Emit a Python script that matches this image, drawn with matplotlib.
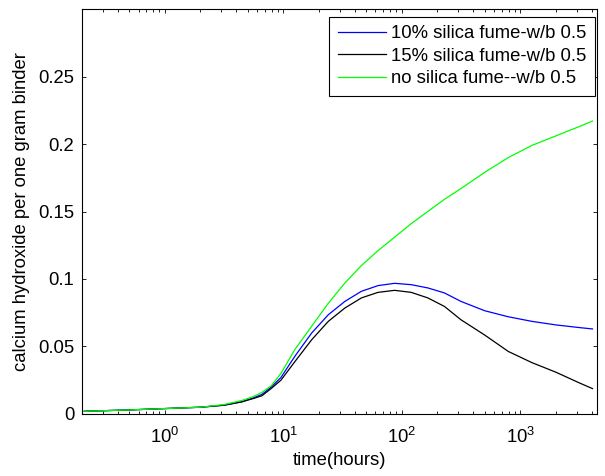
import numpy as np
import matplotlib.pyplot as plt

plt.rcParams['font.family'] = ['Liberation Sans', 'DejaVu Sans']

# log10(time in hours) at which the curves were read
log_t = [-0.68, -0.3, 0.0, 0.3, 0.5, 0.65, 0.75, 0.82, 0.9, 0.98, 1.1, 1.24, 1.38, 1.52,
         1.66, 1.8, 1.94, 2.08, 2.22, 2.36, 2.5, 2.7, 2.9, 3.1, 3.3, 3.5, 3.61]

sf10 = [0.002, 0.003, 0.004, 0.005, 0.0065, 0.009, 0.012, 0.0145, 0.020, 0.027, 0.043, 0.060, 0.0735, 0.0834,
        0.0909, 0.0951, 0.0968, 0.0958, 0.0934, 0.0897, 0.0834, 0.0765, 0.072, 0.0686, 0.066, 0.064, 0.063]
sf15 = [0.002, 0.003, 0.004, 0.005, 0.0065, 0.009, 0.0115, 0.0135, 0.019, 0.025, 0.039, 0.055, 0.0686, 0.0785,
        0.086, 0.0901, 0.0916, 0.0901, 0.086, 0.0797, 0.0698, 0.0585, 0.0463, 0.038, 0.031, 0.023, 0.0188]
no_sf = [0.002, 0.003, 0.004, 0.005, 0.007, 0.010, 0.013, 0.016, 0.021, 0.030, 0.048, 0.065, 0.082, 0.097,
         0.110, 0.121, 0.131, 0.141, 0.150, 0.159, 0.167, 0.179, 0.190, 0.199, 0.206, 0.213, 0.217]

labels = ['10% silica fume-w/b 0.5', '15% silica fume-w/b 0.5', 'no silica fume--w/b 0.5']

t = 10 ** np.array(log_t)

fig = plt.figure(figsize=(6.05, 4.76), dpi=100)
ax = fig.add_axes([0.1355, 0.1303, 0.8513, 0.8507])

ax.plot(t, sf10, color='#0000ff', lw=0.9, label=labels[0])
ax.plot(t, sf15, color='black', lw=0.9, label=labels[1])
ax.plot(t, no_sf, color='#00ff00', lw=0.9, label=labels[2])

ax.set_xscale('log')
ax.set_xlim(0.2, 4450)
ax.set_ylim(0, 0.3)
ax.set_yticks([0, 0.05, 0.1, 0.15, 0.2, 0.25])
ax.set_yticklabels(['0', '0.05', '0.1', '0.15', '0.2', '0.25'])
ax.tick_params(which='both', direction='in', top=True, right=True, labelsize=13.3)
ax.tick_params(which='major', length=3, width=0.6)
ax.tick_params(which='minor', length=2, width=0.6)
ax.tick_params(axis='x', which='major', pad=9)
ax.tick_params(axis='y', which='major', pad=5.5)
for s in ax.spines.values():
    s.set_linewidth(0.8)

ax.set_xlabel('time(hours)', fontsize=13.3, labelpad=4)
ax.set_ylabel('calcium hydroxide per one gram binder', fontsize=13.3, labelpad=6)

leg = ax.legend(loc='upper right', bbox_to_anchor=(0.9961, 0.9802), fontsize=13.3,
                fancybox=False, edgecolor='black', framealpha=1, handlelength=2.6,
                borderaxespad=0, labelspacing=0.3, handletextpad=0.3, borderpad=0.45)
leg.get_frame().set_linewidth(0.8)

fig.savefig('out.png', dpi=100)
